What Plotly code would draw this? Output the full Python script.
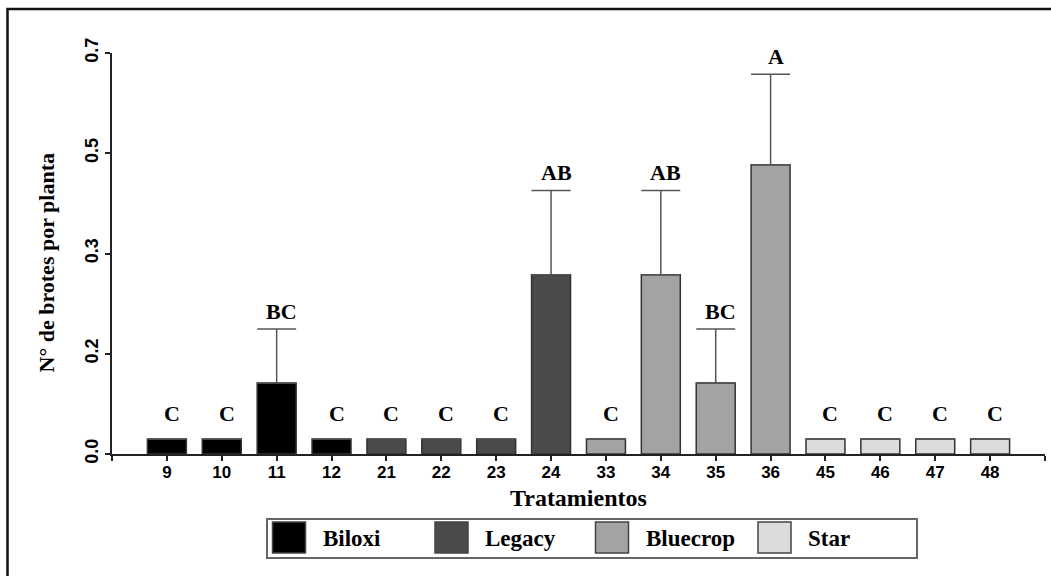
import plotly.graph_objects as go

# ---- data -------------------------------------------------------------
treatments = ["9", "10", "11", "12", "21", "22", "23", "24",
              "33", "34", "35", "36", "45", "46", "47", "48"]
variety = ["Biloxi"] * 4 + ["Legacy"] * 4 + ["Bluecrop"] * 4 + ["Star"] * 4
shoots_mean = [0.026, 0.026, 0.124, 0.026, 0.026, 0.026, 0.026, 0.313,
               0.026, 0.313, 0.124, 0.505, 0.026, 0.026, 0.026, 0.026]
shoots_se = [0, 0, 0.094, 0, 0, 0, 0, 0.147,
             0, 0.147, 0.094, 0.158, 0, 0, 0, 0]
letters = ["C", "C", "BC", "C", "C", "C", "C", "AB",
           "C", "AB", "BC", "A", "C", "C", "C", "C"]
varieties = ["Biloxi", "Legacy", "Bluecrop", "Star"]
variety_colors = ["#000000", "#4a4a4a", "#a3a3a3", "#dcdcdc"]
y_tickvals = [0.0, 0.175, 0.35, 0.525, 0.7]
y_ticktext = ["0.0", "0.2", "0.3", "0.5", "0.7"]

# ---- geometry ---------------------------------------------------------
W, H = 1051, 576
ML, MR, MT, MB = 112, 6, 53, 122
PW, PH = W - ML - MR, H - MT - MB


def px(xp):
    return (xp - ML) / PW


def py(yp):
    return (H - MB - yp) / PH


SERIF = "'Liberation Serif', 'Times New Roman', Times, 'DejaVu Serif', serif"
SANS = "'Liberation Sans', Arial, Helvetica, sans-serif"

fig = go.Figure()
pos = list(range(len(treatments)))

for name, col in zip(varieties, variety_colors):
    idx = [i for i, v in enumerate(variety) if v == name]
    fig.add_trace(go.Bar(
        x=[pos[i] for i in idx],
        y=[shoots_mean[i] for i in idx],
        width=0.71,
        name=name,
        marker=dict(color=col, line=dict(color="#333333", width=1.5)),
        error_y=dict(
            type="data", symmetric=False,
            array=[shoots_se[i] if shoots_se[i] > 0 else None for i in idx],
            arrayminus=[0 for _ in idx],
            width=19.5, thickness=1.5, color="#555555",
        ),
        showlegend=False,
    ))

# significance letters above each bar / whisker
for i, lab in enumerate(letters):
    top = shoots_mean[i] + shoots_se[i]
    fig.add_annotation(
        x=pos[i], y=top, text="<b>%s</b>" % lab, showarrow=False,
        yanchor="bottom", xanchor="center",
        xshift=5, yshift=3 if shoots_se[i] > 0 else 11,
        font=dict(family=SERIF, size=22, color="#000000"),
    )

# axis titles
fig.add_annotation(
    x=px(578), y=py(498), xref="paper", yref="paper",
    text="<b>Tratamientos</b>",
    showarrow=False, xanchor="center", yanchor="middle",
    font=dict(family=SERIF, size=24, color="#000000"),
)
fig.add_annotation(
    x=px(45.5), y=py(263), xref="paper", yref="paper",
    text="<b>N° de brotes por planta</b>", textangle=-90,
    showarrow=False, xanchor="center", yanchor="middle",
    font=dict(family=SERIF, size=22, color="#000000"),
)

shapes = []
# outer frame
shapes.append(dict(type="rect", xref="paper", yref="paper",
                   x0=px(7.5), x1=px(1053), y0=py(580), y1=py(9),
                   line=dict(color="#111111", width=2.5)))

# legend box with swatches
shapes.append(dict(type="rect", xref="paper", yref="paper",
                   x0=px(267), x1=px(917), y0=py(558), y1=py(519),
                   line=dict(color="#666666", width=2), fillcolor="white"))
sw_left = [272.5, 435, 595.5, 758]
for name, col, xl in zip(varieties, variety_colors, sw_left):
    shapes.append(dict(type="rect", xref="paper", yref="paper",
                       x0=px(xl), x1=px(xl + 33), y0=py(553), y1=py(522),
                       line=dict(color="#444444", width=1.5), fillcolor=col))
    fig.add_annotation(
        x=px(xl + 48), y=py(538), xref="paper", yref="paper",
        text="<b>%s</b>" % name,
        showarrow=False, xanchor="left", yanchor="middle",
        font=dict(family=SERIF, size=23, color="#000000"),
    )

fig.update_layout(
    width=W, height=H,
    margin=dict(l=ML, r=MR, t=MT, b=MB, pad=0),
    paper_bgcolor="white", plot_bgcolor="white",
    barmode="overlay",
    shapes=shapes,
    xaxis=dict(
        range=[-1, 16],
        tickvals=list(range(-1, 17)),
        ticktext=[""] + ["<b>%s</b>" % t for t in treatments] + [""],
        ticks="outside", ticklen=5, tickwidth=1.5, tickcolor="#222222",
        ticklabelstandoff=-3,
        showline=True, linecolor="#222222", linewidth=2,
        showgrid=False, zeroline=False,
        tickfont=dict(family=SANS, size=17, color="#000000"),
    ),
    yaxis=dict(
        range=[0, 0.7],
        tickvals=y_tickvals,
        ticktext=["<b>%s</b>" % t for t in y_ticktext],
        tickangle=-90,
        ticks="outside", ticklen=5, tickwidth=1.5, tickcolor="#222222",
        showline=True, linecolor="#222222", linewidth=2,
        showgrid=False, zeroline=False,
        tickfont=dict(family=SANS, size=18, color="#000000"),
    ),
)

fig.write_html("out.html")
